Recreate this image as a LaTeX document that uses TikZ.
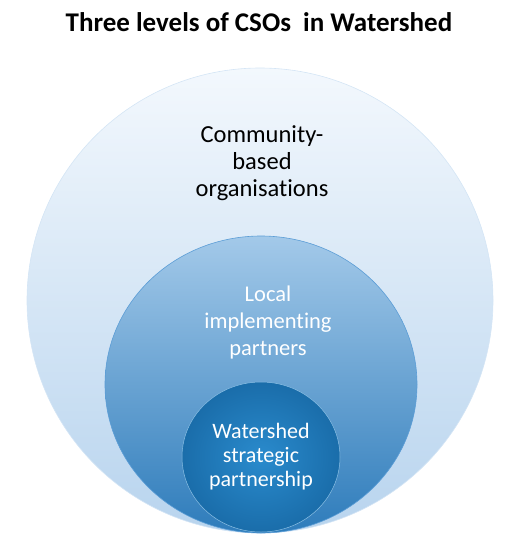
\documentclass[tikz,border=0pt]{standalone}
\usepackage{fontspec}
\setmainfont[Ligatures=NoCommon]{Carlito}
\usetikzlibrary{shapes.geometric}
\definecolor{outerTop}{HTML}{F3F8FD}
\definecolor{outerBot}{HTML}{B8D4EE}
\definecolor{midTop}{HTML}{A3C9E9}
\definecolor{midBot}{HTML}{2E7CBB}
\definecolor{midLine}{HTML}{5B9DD6}
\definecolor{inCen}{HTML}{2A8BCD}
\definecolor{inEdge}{HTML}{1A6DAA}
\tikzset{
  ring/.style={ellipse, inner sep=0pt},
  lbl/.style={align=center, font=\fontsize{24.5}{27}\selectfont},
}
\begin{document}
\begin{tikzpicture}[x=1pt,y=-1pt]
\useasboundingbox (0,0) rectangle (526,546);
\node[ring, minimum width=466pt, minimum height=465pt, top color=outerTop, bottom color=outerBot, draw=outerBot!60!white, line width=0.6pt] (outer) at (260,300.5) {};
\node[ring, minimum width=312pt, minimum height=297pt, top color=midTop, bottom color=midBot, draw=midLine, line width=0.6pt] (mid) at (261,384.5) {};
\node[ring, minimum width=158pt, minimum height=150pt, inner color=inCen, outer color=inEdge, draw=inCen!55!white, line width=0.5pt] (inner) at (261,457) {};
\node[font=\bfseries\fontsize{27}{30}\selectfont] (title) at (259,22) {Three levels of CSOs\ \ in Watershed};
\node[lbl, text=black] (cbo) at (262,163) {Community-\\based\\organisations};
\node[lbl, text=white, font=\fontsize{22.5}{27}\selectfont] (lip) at (268,322) {Local\\implementing\\partners};
\node[align=center, text=white, font=\fontsize{22}{24}\selectfont] (wsp) at (261,457) {Watershed\\strategic\\partnership};
\end{tikzpicture}
\end{document}
